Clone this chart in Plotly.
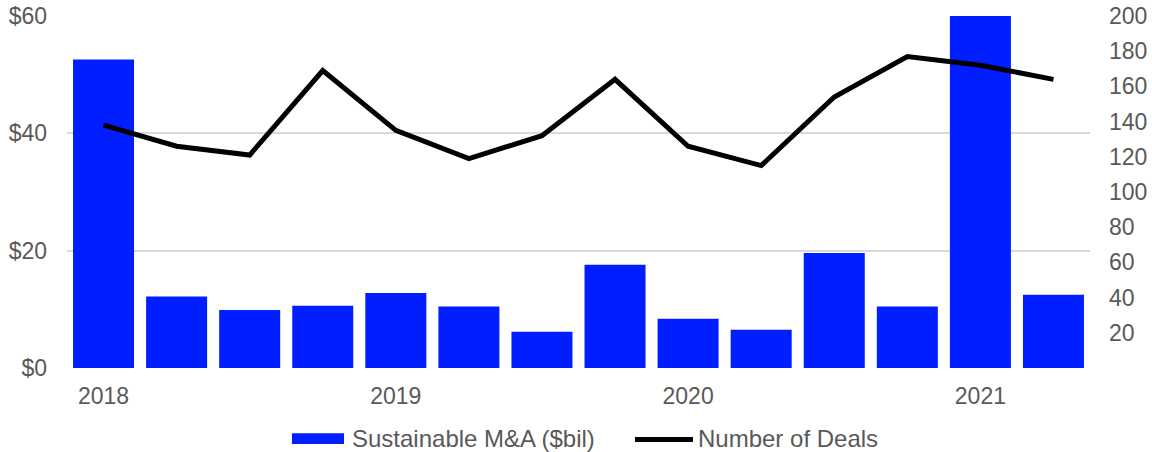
import plotly.graph_objects as go

# Quarterly sustainable M&A value and deal counts
quarters = [
    "Q1 2018", "Q2 2018", "Q3 2018", "Q4 2018",
    "Q1 2019", "Q2 2019", "Q3 2019", "Q4 2019",
    "Q1 2020", "Q2 2020", "Q3 2020", "Q4 2020",
    "Q1 2021", "Q2 2021",
]
ma_value_bil = [52.6, 12.2, 9.9, 10.6, 12.8, 10.5, 6.2, 17.6, 8.4, 6.5, 19.6, 10.5, 60.0, 12.5]
deal_counts = [138, 126, 121, 169, 135, 119, 132, 164, 126, 115, 154, 177, 172, 164]

year_ticks = ["Q1 2018", "Q1 2019", "Q1 2020", "Q1 2021"]
year_labels = ["2018", "2019", "2020", "2021"]

left_ticks = [0, 20, 40, 60]
left_labels = ["$0", "$20", "$40", "$60"]
right_ticks = [20, 40, 60, 80, 100, 120, 140, 160, 180, 200]

BAR_COLOR = "#001eff"
TEXT_COLOR = "#595959"
GRID_COLOR = "#d9d9d9"
FONT = "Liberation Sans, Arial, sans-serif"
FS = 23
LEGEND_FS = 24

fig = go.Figure()
fig.add_trace(go.Bar(
    x=quarters, y=ma_value_bil, name="Sustainable M&A ($bil)",
    marker=dict(color=BAR_COLOR, line=dict(width=0)),
    yaxis="y",
))
fig.add_trace(go.Scatter(
    x=quarters, y=deal_counts, name="Number of Deals", mode="lines",
    line=dict(color="black", width=5),
    yaxis="y2",
))

# Legend drawn beneath the plot area
legend_shapes = [
    dict(type="rect", xref="paper", yref="paper",
         x0=0.2199, x1=0.2708, y0=-0.2159, y1=-0.1855,
         fillcolor=BAR_COLOR, line=dict(width=0)),
    dict(type="line", xref="paper", yref="paper",
         x0=0.5552, x1=0.6119, y0=-0.2031, y1=-0.2031,
         line=dict(color="black", width=5)),
]
legend_text = [
    dict(text="Sustainable M&A ($bil)", xref="paper", yref="paper",
         x=0.2766, y=-0.1995, xanchor="left", yanchor="middle", showarrow=False,
         font=dict(family=FONT, size=LEGEND_FS, color=TEXT_COLOR)),
    dict(text="Number of Deals", xref="paper", yref="paper",
         x=0.6149, y=-0.1995, xanchor="left", yanchor="middle", showarrow=False,
         font=dict(family=FONT, size=LEGEND_FS, color=TEXT_COLOR)),
]

fig.update_layout(
    width=1152, height=452,
    margin=dict(l=67, r=62, t=16, b=84, autoexpand=False),
    plot_bgcolor="white", paper_bgcolor="white",
    font=dict(family=FONT, size=FS, color=TEXT_COLOR),
    showlegend=False,
    bargap=0.165,
    shapes=legend_shapes,
    annotations=legend_text,
    xaxis=dict(
        type="category",
        tickmode="array", tickvals=year_ticks, ticktext=year_labels,
        showgrid=False, showline=False, zeroline=False,
        ticks="", ticklabelstandoff=12, automargin=False,
        tickfont=dict(size=FS, color=TEXT_COLOR),
    ),
    yaxis=dict(
        range=[0, 60],
        tickmode="array", tickvals=left_ticks, ticktext=left_labels,
        showgrid=True, gridcolor=GRID_COLOR, gridwidth=1.5,
        zeroline=False, showline=False, ticks="",
        ticklabelstandoff=19, automargin=False,
        tickfont=dict(size=FS, color=TEXT_COLOR),
    ),
    yaxis2=dict(
        range=[0, 200], overlaying="y", side="right",
        tickmode="array", tickvals=right_ticks,
        showgrid=False, zeroline=False, showline=False, ticks="",
        ticklabelstandoff=18, automargin=False,
        tickfont=dict(size=FS, color=TEXT_COLOR),
    ),
)

fig.write_html("out.html")
